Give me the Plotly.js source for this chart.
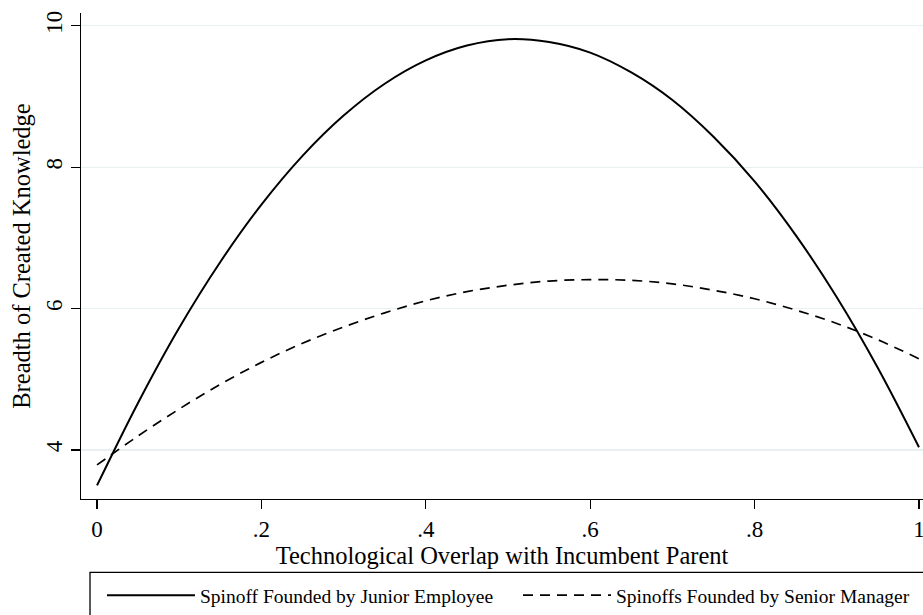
<!DOCTYPE html>
<html>
<head>
<meta charset="utf-8">
<script src="https://cdn.plot.ly/plotly-3.0.1.min.js"></script>
<style>
html,body{margin:0;padding:0;background:#fff;}
#chart{width:923px;height:615px;}
</style>
</head>
<body>
<div id="chart"></div>
<script>
// Technological overlap values (x)
var overlap = [0, 0.05, 0.1, 0.15, 0.2, 0.25, 0.3, 0.35, 0.4, 0.45, 0.5, 0.55, 0.6, 0.65, 0.7, 0.75, 0.8, 0.85, 0.9, 0.95, 1.0];
// Spinoff Founded by Junior Employee
var juniorBreadth = [3.50, 4.67, 5.73, 6.66, 7.47, 8.16, 8.73, 9.18, 9.51, 9.72, 9.81, 9.77, 9.62, 9.34, 8.95, 8.43, 7.80, 7.04, 6.16, 5.16, 4.04];
// Spinoffs Founded by Senior Manager
var seniorBreadth = [3.79, 4.20, 4.58, 4.93, 5.24, 5.51, 5.74, 5.94, 6.11, 6.24, 6.33, 6.39, 6.41, 6.40, 6.35, 6.26, 6.14, 5.98, 5.79, 5.56, 5.29];

var seriesNames = ['Spinoff Founded by Junior Employee', 'Spinoffs Founded by Senior Manager'];
var xTickVals = [0, 0.2, 0.4, 0.6, 0.8, 1];
var xTickText = ['0', '.2', '.4', '.6', '.8', '1'];
var yTickVals = [4, 6, 8, 10];
var yTickText = ['4', '6', '8', '10'];

var serif = 'Liberation Serif, Times New Roman, serif';

var traces = [
  {x: overlap, y: juniorBreadth, type: 'scatter', mode: 'lines',
   name: seriesNames[0], legend: 'legend',
   line: {color: '#000000', width: 2, shape: 'spline', dash: 'solid'}},
  {x: overlap, y: seniorBreadth, type: 'scatter', mode: 'lines',
   name: seriesNames[1], legend: 'legend2',
   line: {color: '#000000', width: 1.7, shape: 'spline', dash: '10px,7px'}}
];

var legendCommon = {
  orientation: 'h', xanchor: 'left', y: -0.1992, yanchor: 'middle',
  font: {family: serif, size: 19.5, color: '#000000'},
  bgcolor: 'rgba(0,0,0,0)', borderwidth: 0, itemwidth: 88
};

var layout = {
  width: 923, height: 615,
  margin: {l: 81, r: 0, t: 13, b: 115, pad: 0},
  paper_bgcolor: '#ffffff', plot_bgcolor: '#ffffff',
  font: {family: serif, color: '#000000', size: 23},
  showlegend: true,
  legend: Object.assign({}, legendCommon, {x: 0.0249}),
  legend2: Object.assign({}, legendCommon, {x: 0.519}),
  xaxis: {
    range: [-0.0195, 1.0049],
    tickvals: xTickVals, ticktext: xTickText,
    ticklabeloverflow: 'allow',
    showgrid: false, zeroline: false,
    showline: true, linecolor: '#000000', linewidth: 1.3,
    ticks: 'outside', ticklen: 9, tickwidth: 1.3, tickcolor: '#000000',
    tickfont: {family: serif, size: 23, color: '#000000'},
    title: {text: 'Technological Overlap with Incumbent Parent', font: {family: serif, size: 24.5, color: '#000000'}, standoff: 0}
  },
  yaxis: {
    range: [3.308, 10.18],
    tickvals: yTickVals, ticktext: yTickText, tickangle: -90,
    showgrid: true, gridcolor: '#e9f0f2', gridwidth: 1.3,
    zeroline: false,
    showline: true, linecolor: '#000000', linewidth: 1.3,
    ticks: 'outside', ticklen: 9, tickwidth: 1.3, tickcolor: '#000000',
    tickfont: {family: serif, size: 23, color: '#000000'},
    title: {text: 'Breadth of Created Knowledge', font: {family: serif, size: 24.5, color: '#000000'}, standoff: 4}
  },
  shapes: [
    {type: 'rect', xref: 'paper', yref: 'paper', x0: 0.0107, x1: 1.02, y0: -0.151, y1: -0.35,
     line: {color: '#000000', width: 1.3}, fillcolor: 'rgba(0,0,0,0)', layer: 'below'}
  ]
};

Plotly.newPlot('chart', traces, layout, {displayModeBar: false, staticPlot: true});
</script>
</body>
</html>
